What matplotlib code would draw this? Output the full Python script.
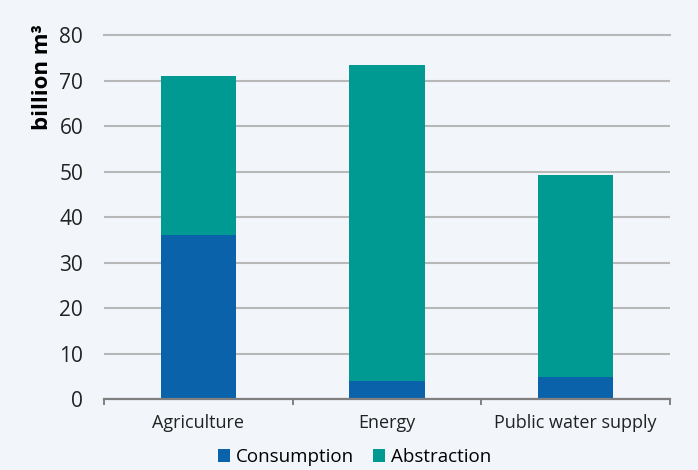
import matplotlib.pyplot as plt
import numpy as np

SECTORS = ["Agriculture", "Energy", "Public water supply"]
ABSTRACTION = [71.0, 73.5, 49.3]
CONSUMPTION = [36.0, 4.0, 4.8]
Y_TICKS = [0, 10, 20, 30, 40, 50, 60, 70, 80]

BLUE = "#0a62ab"
TEAL = "#009a93"
BACKGROUND = "#f2f6fb"
GRID = "#b8b8b8"

plt.rcParams["font.family"] = ["Open Sans", "DejaVu Sans"]

fig = plt.figure(figsize=(6.98, 4.70), dpi=100, facecolor=BACKGROUND)
ax = fig.add_axes([0.149, 0.151, 0.811, 0.7745], facecolor=BACKGROUND)

x = np.arange(len(SECTORS))
width = 0.4

# abstraction is the total; consumption is the part of it drawn on top
ax.bar(x, ABSTRACTION, width, color=TEAL, label="Abstraction", zorder=3)
ax.bar(x, CONSUMPTION, width, color=BLUE, label="Consumption", zorder=4)

ax.set_xlim(-0.5, 2.5)
ax.set_ylim(0, 80)
ax.set_yticks(Y_TICKS)
ax.yaxis.grid(True, color=GRID, linewidth=1.5, zorder=0)
ax.get_ygridlines()[-1].set_clip_on(False)
ax.tick_params(axis="y", length=0, labelsize=15, colors="#222222", pad=15)

ax.set_xticks(x)
ax.set_xticklabels(SECTORS)
ax.set_xticks([-0.5, 0.5, 1.5, 2.5], minor=True)
ax.tick_params(axis="x", which="major", length=0, labelsize=13,
               colors="#222222", pad=11)
ax.tick_params(axis="x", which="minor", length=4, width=1.4, color="#808080")

for side in ["top", "right", "left"]:
    ax.spines[side].set_visible(False)
ax.spines["bottom"].set_color("#808080")
ax.spines["bottom"].set_linewidth(1.6)
ax.spines["bottom"].set_zorder(5)

ax.set_ylabel("billion m³", fontsize=16, fontweight="bold", labelpad=4)
ax.yaxis.set_label_coords(-0.09, 0.885)

handles, labels = ax.get_legend_handles_labels()
fig.legend(handles[::-1], labels[::-1], loc="center", bbox_to_anchor=(0.508, 0.027),
           ncol=2, frameon=False, fontsize=13.5, handlelength=0.65,
           handleheight=0.65, handletextpad=0.3, columnspacing=1.0)

fig.savefig("out.png", dpi=100, facecolor=BACKGROUND)
